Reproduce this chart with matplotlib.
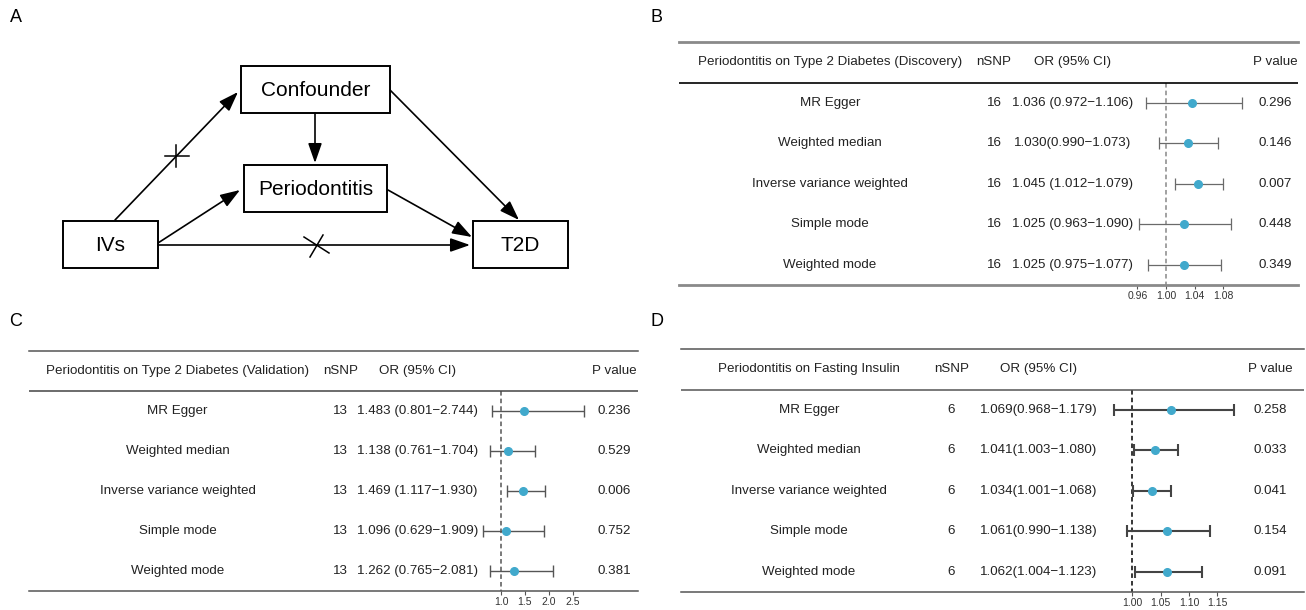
import numpy as np
import matplotlib as mpl
mpl.use('Agg')
import matplotlib.pyplot as plt
from matplotlib.patches import Rectangle

plt.rcParams['font.family'] = ['Liberation Sans', 'DejaVu Sans']

W, H = 1306, 610

methods = ["MR Egger", "Weighted median", "Inverse variance weighted", "Simple mode", "Weighted mode"]

# B: discovery
b_nsnp = [16, 16, 16, 16, 16]
b_or = [1.036, 1.030, 1.045, 1.025, 1.025]
b_lo = [0.972, 0.990, 1.012, 0.963, 0.975]
b_hi = [1.106, 1.073, 1.079, 1.090, 1.077]
b_ortxt = ["1.036 (0.972\u22121.106)", "1.030(0.990\u22121.073)", "1.045 (1.012\u22121.079)",
           "1.025 (0.963\u22121.090)", "1.025 (0.975\u22121.077)"]
b_p = ["0.296", "0.146", "0.007", "0.448", "0.349"]
b_ticks = [0.96, 1.00, 1.04, 1.08]
b_ticklabels = ["0.96", "1.00", "1.04", "1.08"]

# C: validation
c_nsnp = [13, 13, 13, 13, 13]
c_or = [1.483, 1.138, 1.469, 1.096, 1.262]
c_lo = [0.801, 0.761, 1.117, 0.629, 0.765]
c_hi = [2.744, 1.704, 1.930, 1.909, 2.081]
c_ortxt = ["1.483 (0.801\u22122.744)", "1.138 (0.761\u22121.704)", "1.469 (1.117\u22121.930)",
           "1.096 (0.629\u22121.909)", "1.262 (0.765\u22122.081)"]
c_p = ["0.236", "0.529", "0.006", "0.752", "0.381"]
c_ticks = [1.0, 1.5, 2.0, 2.5]
c_ticklabels = ["1.0", "1.5", "2.0", "2.5"]

# D: fasting insulin
d_nsnp = [6, 6, 6, 6, 6]
d_or = [1.069, 1.041, 1.034, 1.061, 1.062]
d_lo = [0.968, 1.003, 1.001, 0.990, 1.004]
d_hi = [1.179, 1.080, 1.068, 1.138, 1.123]
d_ortxt = ["1.069(0.968\u22121.179)", "1.041(1.003\u22121.080)", "1.034(1.001\u22121.068)",
           "1.061(0.990\u22121.138)", "1.062(1.004\u22121.123)"]
d_p = ["0.258", "0.033", "0.041", "0.154", "0.091"]
d_ticks = [1.00, 1.05, 1.10, 1.15]
d_ticklabels = ["1.00", "1.05", "1.10", "1.15"]

dotcol = "#41A9CC"
txtcol = "#222222"

fig = plt.figure(figsize=(W / 100, H / 100), dpi=100)
fig.patch.set_facecolor("white")


def px_axes(x0, y0, x1, y1):
    return fig.add_axes([x0 / W, 1 - y1 / H, (x1 - x0) / W, (y1 - y0) / H])


# ---------------- panel A : diagram ----------------
axd = fig.add_axes([0, 0, 1, 1])
axd.set_xlim(0, W)
axd.set_ylim(H, 0)
axd.axis("off")
axd.patch.set_alpha(0)

boxes = {"Confounder": (241, 66, 390, 113),
         "Periodontitis": (244, 165, 387, 212),
         "IVs": (63, 221, 158, 268),
         "T2D": (473, 221, 568, 268)}
for name, (x0, y0, x1, y1) in boxes.items():
    axd.add_patch(Rectangle((x0, y0), x1 - x0, y1 - y0, fill=False, lw=1.4, ec="black"))
    axd.text((x0 + x1) / 2, (y0 + y1) / 2 + 1, name, ha="center", va="center", fontsize=15, color="black")

arrows = [((115, 220), (238, 92)),
          ((158, 243), (240, 190)),
          ((158, 245), (470, 245)),
          ((315, 113), (315, 163)),
          ((390, 90), (519, 220)),
          ((388, 190), (472, 237))]
for s, e in arrows:
    axd.annotate("", xy=e, xytext=s,
                 arrowprops=dict(arrowstyle="-|>,head_length=0.8,head_width=0.28", color="black",
                                 lw=1.2, shrinkA=0, shrinkB=0, mutation_scale=15))
# crosses on blocked paths
axd.plot([165, 189], [156, 156], color="black", lw=1.1)
axd.plot([176, 176], [145, 167], color="black", lw=1.1)
axd.plot([304, 329], [237, 253], color="black", lw=1.1)
axd.plot([310, 323], [257, 235], color="black", lw=1.1)

# panel letters
for lab, x, y in [("A", 16, 17), ("B", 657, 17), ("C", 16, 322), ("D", 657, 321)]:
    axd.text(x, y, lab, ha="center", va="center", fontsize=13, color="black")


# ---------------- forest tables ----------------
def forest(box, xlim, title, nsnp, orv, lo, hi, ortxt, pv, ticks, ticklabels, cols, st):
    ax = px_axes(*box)
    ax.set_xlim(*xlim)
    ax.set_ylim(4.5, -1.5)
    rows = np.arange(len(methods))
    for sp in ["left", "right"]:
        ax.spines[sp].set_visible(False)
    ax.spines["top"].set_color(st["rule"])
    ax.spines["top"].set_linewidth(st["rule_lw"])
    ax.spines["bottom"].set_color(st["rule"])
    ax.spines["bottom"].set_linewidth(st["rule_lw"])
    ax.axhline(-0.5, color=st["head"], lw=st["head_lw"])
    ax.vlines(1.0, -0.5, 4.5, colors=st["dash"], linestyles=(0, (3, 2)), lw=1.1, zorder=1)

    orv = np.array(orv)
    ax.errorbar(orv, rows, xerr=[orv - np.array(lo), np.array(hi) - orv], fmt="none",
                ecolor=st["bar"], elinewidth=st["bar_lw"], capsize=4.5, capthick=st["bar_lw"], zorder=2)
    ax.plot(orv, rows, "o", color=dotcol, ms=5.5, mec=dotcol, zorder=3)

    ax.set_yticks([])
    ax.set_xticks(ticks)
    ax.set_xticklabels(ticklabels)
    ax.tick_params(axis="x", direction="out", length=3, width=0.8, color="#555555",
                   labelsize=7.5, pad=1, labelcolor="#333333")

    tr = ax.get_yaxis_transform()
    fs = 9.6
    ax.text(cols[0], -1, title, transform=tr, ha="center", va="center", fontsize=fs, color=txtcol)
    ax.text(cols[1], -1, "nSNP", transform=tr, ha="center", va="center", fontsize=fs, color=txtcol)
    ax.text(cols[2], -1, "OR (95% CI)", transform=tr, ha="center", va="center", fontsize=fs, color=txtcol)
    ax.text(cols[3], -1, "P value", transform=tr, ha="center", va="center", fontsize=fs, color=txtcol)
    for i in rows:
        ax.text(cols[0], i, methods[i], transform=tr, ha="center", va="center", fontsize=fs, color=txtcol)
        ax.text(cols[1], i, str(nsnp[i]), transform=tr, ha="center", va="center", fontsize=fs, color=txtcol)
        ax.text(cols[2], i, ortxt[i], transform=tr, ha="center", va="center", fontsize=fs, color=txtcol)
        ax.text(cols[3], i, pv[i], transform=tr, ha="center", va="center", fontsize=fs, color=txtcol)
    return ax


forest((679, 42, 1298, 285), (0.3208, 1.1841), "Periodontitis on Type 2 Diabetes (Discovery)",
       b_nsnp, b_or, b_lo, b_hi, b_ortxt, b_p, b_ticks, b_ticklabels,
       [0.2439, 0.5089, 0.6365, 0.9628],
       dict(rule="#8a8a8a", rule_lw=2.0, head="black", head_lw=1.2, dash="#888888", bar="#6a6a6a", bar_lw=0.9))

forest((29, 351, 638, 591), (-8.895, 3.872), "Periodontitis on Type 2 Diabetes (Validation)",
       c_nsnp, c_or, c_lo, c_hi, c_ortxt, c_p, c_ticks, c_ticklabels,
       [0.2442, 0.5115, 0.6383, 0.9606],
       dict(rule="#555555", rule_lw=1.1, head="#444444", head_lw=1.1, dash="#555555", bar="#555555", bar_lw=1.0))

forest((681, 349, 1304, 592), (0.204, 1.303), "Periodontitis on Fasting Insulin",
       d_nsnp, d_or, d_lo, d_hi, d_ortxt, d_p, d_ticks, d_ticklabels,
       [0.2055, 0.4342, 0.5746, 0.9454],
       dict(rule="#555555", rule_lw=1.1, head="#555555", head_lw=1.1, dash="black", bar="#444444", bar_lw=1.5))

fig.savefig("out.png", dpi=100, facecolor="white")
